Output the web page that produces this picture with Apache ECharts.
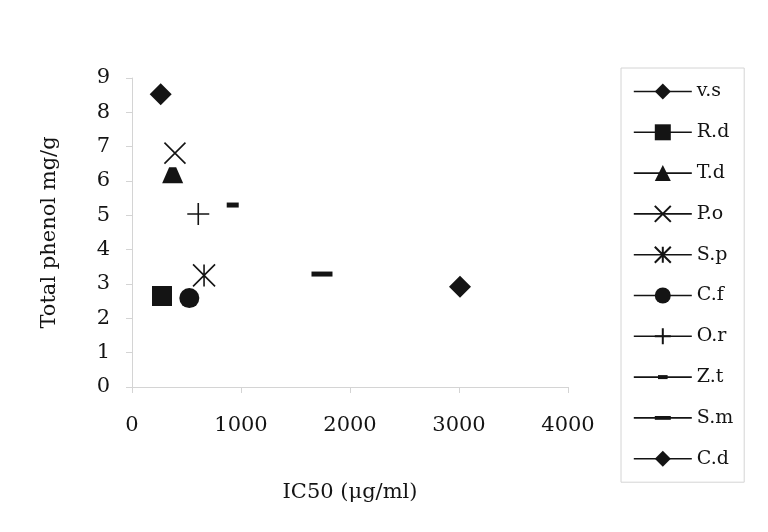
<!DOCTYPE html>
<html>
<head>
<meta charset="utf-8">
<script src="https://cdn.jsdelivr.net/npm/echarts@6/dist/echarts.min.js"></script>
<style>html,body{margin:0;padding:0;background:#fff}#c{width:768px;height:532px}</style>
</head>
<body>
<div id="c"></div>
<script>
const names = ['v.s','R.d','T.d','P.o','S.p','C.f','O.r','Z.t','S.m','C.d'];
const ic50 = [263, 275, 373, 394, 661, 526, 608, 924, 1743, 3009];
const phenol = [8.53, 2.65, 6.17, 6.81, 3.25, 2.59, 5.04, 5.30, 3.29, 2.92];
const xTicks = [0, 1000, 2000, 3000, 4000];
const yTicks = [0, 1, 2, 3, 4, 5, 6, 7, 8, 9];

const INK = '#141414';
const FONT = 'DejaVu Serif';
const symbols = [
  {symbol:'diamond', size:22, stroke:false},
  {symbol:'rect', size:20, stroke:false},
  {symbol:'triangle', size:[21,16], stroke:false, itemSymbol:'path://M7,0L14,0L21,16L0,16Z'},
  {symbol:'path://M0,0L20,20M20,0L0,20', size:21, stroke:true},
  {symbol:'path://M0,0L20,20M20,0L0,20M10,0L10,20', size:22, stroke:true},
  {symbol:'circle', size:20, stroke:false},
  {symbol:'path://M10,0L10,20M0,10L20,10', size:22, stroke:true},
  {symbol:'path://M0,0M20,20M4,7.5L16,7.5L16,12.5L4,12.5Z', size:20, stroke:false},
  {symbol:'path://M0,0M21,21M0,8L21,8L21,13L0,13Z', size:21, stroke:false},
  {symbol:'diamond', size:22, stroke:false}
];

const series = names.map((n, i) => {
  const s = symbols[i];
  const pt = {value:[ic50[i], phenol[i]]};
  if (s.itemSymbol) pt.symbol = s.itemSymbol;
  return {
    name: n,
    type: 'line',
    data: [pt],
    symbol: s.symbol,
    symbolSize: s.size,
    showSymbol: true,
    lineStyle: {opacity: 0},
    itemStyle: s.stroke
      ? {color: INK, borderColor: INK, borderWidth: 1.6}
      : {color: INK, borderWidth: 0},
    emphasis: {disabled: true}
  };
});

const chart = echarts.init(document.getElementById('c'), null, {renderer:'canvas'});
chart.setOption({
  animation: false,
  backgroundColor: '#fff',
  grid: {left: 132, right: 200, top: 78, bottom: 145, containLabel: false},
  xAxis: {
    type: 'value', min: xTicks[0], max: xTicks[xTicks.length-1], interval: 1000,
    name: 'IC50 (μg/ml)', nameLocation: 'middle', nameGap: 95,
    nameTextStyle: {fontFamily: FONT, fontSize: 21, color: INK},
    axisLine: {show: true, lineStyle: {color: '#d4d4d4', width: 1}},
    axisTick: {show: true, inside: false, length: 6, lineStyle: {color: '#d4d4d4'}},
    axisLabel: {fontFamily: FONT, fontSize: 21, color: INK, margin: 28, formatter: v => String(v)},
    splitLine: {show: false}
  },
  yAxis: {
    type: 'value', min: yTicks[0], max: yTicks[yTicks.length-1], interval: 1,
    name: 'Total phenol mg/g', nameLocation: 'middle', nameGap: 72,
    nameTextStyle: {fontFamily: FONT, fontSize: 21, color: INK},
    axisLine: {show: true, lineStyle: {color: '#d4d4d4', width: 1}},
    axisTick: {show: true, inside: false, length: 6, lineStyle: {color: '#d4d4d4'}},
    axisLabel: {fontFamily: FONT, fontSize: 21, color: INK, margin: 22, formatter: v => String(v)},
    splitLine: {show: false}
  },
  legend: {
    orient: 'vertical', left: 621, top: 68,
    padding: [14, 11, 14, 12],
    itemWidth: 58, itemHeight: 20, itemGap: 21.8,
    borderColor: '#d4d4d4', borderWidth: 1,
    textStyle: {fontFamily: FONT, fontSize: 19, color: INK},
    lineStyle: {color: INK, width: 1.6, opacity: 1},
    data: names
  },
  series: series
});
</script>
</body>
</html>
